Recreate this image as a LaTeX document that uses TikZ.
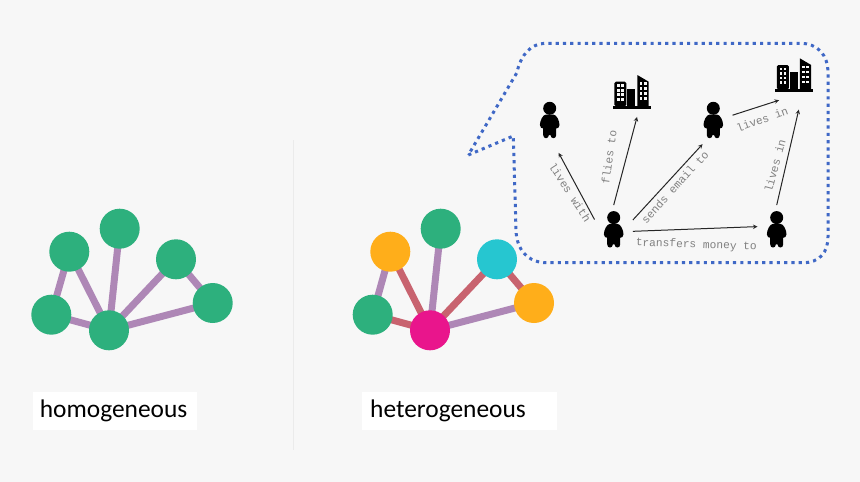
\documentclass[tikz,border=0pt]{standalone}
\usepackage{fontspec}
\setmainfont{Carlito}
\newfontfamily\edgefont{Liberation Mono}
\usetikzlibrary{backgrounds}
\definecolor{pagegray}{HTML}{F7F7F7}
\definecolor{dotblue}{HTML}{3F68C6}
\definecolor{vgreen}{HTML}{2DB07D}
\definecolor{vorange}{HTML}{FFAE1A}
\definecolor{vteal}{HTML}{26C6D0}
\definecolor{vpink}{HTML}{E9158C}
\definecolor{epurple}{HTML}{AE87B6}
\definecolor{ered}{HTML}{C8636F}

\tikzset{
  vertex/.style={circle, inner sep=0pt, minimum size=40pt},
  purpleedge/.style={epurple, line width=7pt},
  rededge/.style={ered, line width=7pt},
  namebox/.style={anchor=west, fill=white, minimum height=38.3pt, font=\fontsize{25.4}{27}\selectfont},
  personbox/.style={rectangle, inner sep=0pt, minimum width=38pt, minimum height=48pt},
  buildingbox/.style={rectangle, inner sep=0pt, minimum width=38pt, minimum height=50pt},
  relation/.style={-stealth, black!85, line width=1pt},
  relationtext/.style={inner sep=0pt, text=black!50, font=\edgefont\fontsize{11.2}{12}\selectfont},
  person/.pic={
    \fill (0,-11.7) circle (6.5);
    \fill (-3.5,-5.5) .. controls (-7,-5.5) and (-9.8,1) .. (-9.8,5)
      .. controls (-9.8,7.5) and (-8,8.5) .. (-6.5,8.5)
      -- (-6.5,15) .. controls (-6.5,19.3) and (-1,19.3) .. (-0.8,15)
      -- (0.8,15) .. controls (1,19.3) and (6.5,19.3) .. (6.5,15)
      -- (6.5,8.5) .. controls (8,8.5) and (9.8,7.5) .. (9.8,5)
      .. controls (9.8,1) and (7,-5.5) .. (3.5,-5.5) -- cycle;
  },
  building/.pic={
    \fill[rounded corners=1.5pt] (-17.4,14.5) -- (-17.4,-10) -- (-5.4,-10) -- (-5.4,14.5) -- cycle;
    \fill (-4.7,14.5) -- (-4.7,-2.7) -- (3.6,-2.7) -- (3.6,14.5) -- cycle;
    \fill (5.6,14.5) -- (5.6,-16.7) -- (17,-10) -- (17,14.5) -- cycle;
    \fill (-19,14) rectangle (19,17);
    \foreach \wy in {-6,-1.5,3,7.5}
      \foreach \wx in {-13.3,-9.2}
        \fill[pagegray] (\wx-1.4,\wy-1.4) rectangle (\wx+1.4,\wy+1.4);
    \foreach \wy in {-8,-3,2,7}
      \foreach \wx in {9.2,13.5}
        \fill[pagegray] (\wx-1.4,\wy-1.4) rectangle (\wx+1.4,\wy+1.4);
  },
}

\begin{document}
\begin{tikzpicture}[x=1pt, y=-1pt]
\useasboundingbox (0,0) rectangle (860,482);
\begin{scope}[on background layer]
\fill[pagegray] (0,0) rectangle (860,482);
\end{scope}
\draw[black!8, line width=0.8pt] (293,140) -- (293,450);

% homogeneous
\node[vertex, fill=vgreen] (hleft) at (51.3,314.7) {};
\node[vertex, fill=vgreen] (hupper) at (69.3,251.7) {};
\node[vertex, fill=vgreen] (htop) at (119.7,228.7) {};
\node[vertex, fill=vgreen] (hnear) at (176,259.3) {};
\node[vertex, fill=vgreen] (hright) at (212.7,303) {};
\node[vertex, fill=vgreen] (hhub) at (109,330.3) {};
\begin{scope}[on background layer]
\foreach \a/\b in {hleft/hupper, hleft/hhub, hupper/hhub, htop/hhub, hnear/hhub, hnear/hright, hright/hhub}
  \draw[purpleedge] (\a.center) -- (\b.center);
\end{scope}
\node[namebox, minimum width=164pt, text width=150pt, inner xsep=7pt] (homtext) at (32.7,411) {\raisebox{-2pt}{homogeneous}};

% heterogeneous
\node[vertex, fill=vgreen] (eleft) at (372.7,314.7) {};
\node[vertex, fill=vorange] (eupper) at (390.3,251.7) {};
\node[vertex, fill=vgreen] (etop) at (440.7,228.7) {};
\node[vertex, fill=vteal] (enear) at (497,259.3) {};
\node[vertex, fill=vorange] (eright) at (534,303) {};
\node[vertex, fill=vpink] (ehub) at (430,330.3) {};
\begin{scope}[on background layer]
\foreach \a/\b in {eleft/eupper, etop/ehub, eright/ehub}
  \draw[purpleedge] (\a.center) -- (\b.center);
\foreach \a/\b in {eleft/ehub, eupper/ehub, enear/ehub, enear/eright}
  \draw[rededge] (\a.center) -- (\b.center);
\end{scope}
\node[namebox, minimum width=194.7pt, text width=178.7pt, inner xsep=8pt] (hettext) at (362,411) {\raisebox{-2pt}{heterogeneous}};

% callout
\draw[dotblue, line width=3pt, dash pattern=on 3.2pt off 4.1pt]
  (468.3,155) -- (513.3,136) -- (516,230)
  .. controls (516.5,250) and (528,262.7) .. (546.7,262.7)
  -- (803,262.7) .. controls (820,262.7) and (828,252) .. (828,236.7)
  -- (828,73) .. controls (828,55) and (818,43.3) .. (800,43.3)
  -- (546.7,43.3) .. controls (530,43.3) and (521,55) .. (516.7,73) -- cycle;

% schema
\node[personbox] (pa) at (549.7,120) {};
\node[personbox] (pb) at (613.7,229.3) {};
\node[personbox] (pc) at (713.3,120) {};
\node[personbox] (pd) at (776.7,229.3) {};
\node[buildingbox] (ba) at (631.7,91.7) {};
\node[buildingbox] (bb) at (794.2,75) {};
\pic at (pa) {person};
\pic at (pb) {person};
\pic at (pc) {person};
\pic at (pd) {person};
\pic at (ba) {building};
\pic at (bb) {building};

\draw[relation, shorten >=9.9pt] (pb.153) -- (pa.-80.3);
\draw[relation] (pb.north) -- (ba.-78);
\draw[relation] (pb.26.4) -- (pc.-114.7);
\draw[relation] (pb.-6) -- (pd.172);
\draw[relation] (pc.14) -- (bb.-121);
\draw[relation, shorten >=9.7pt] (pd.north) -- (bb.-75.2);

\node[relationtext, rotate=-57] (tlives) at (570,192.3) {lives with};
\node[relationtext, rotate=82] (tflies) at (609,157.3) {flies to};
\node[relationtext, rotate=48] (tsends) at (675,187.3) {sends email to};
\node[relationtext, rotate=-2] (ttransfers) at (696.3,245) {transfers money to};
\node[relationtext, rotate=20] (tinone) at (762.3,119.3) {lives in};
\node[relationtext, rotate=75] (tintwo) at (775,165.7) {lives in};
\end{tikzpicture}
\end{document}
